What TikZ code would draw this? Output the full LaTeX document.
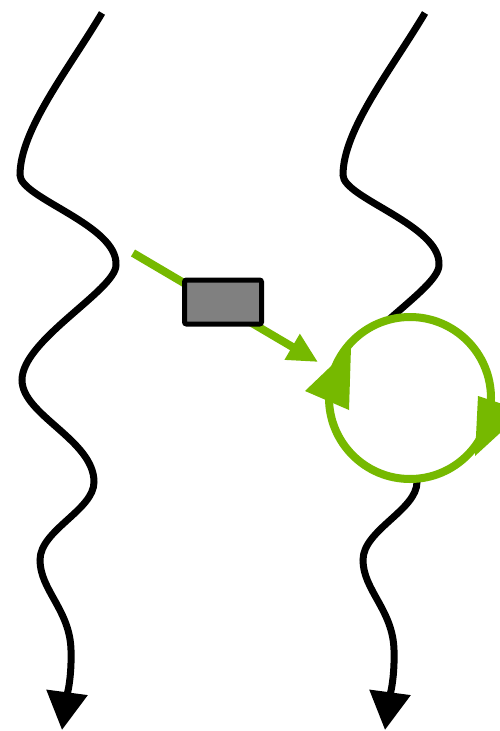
\documentclass[tikz,border=0pt]{standalone}
\usepackage{xcolor}
\usepackage{tikz}
\usetikzlibrary{arrows.meta}
\definecolor{sprout}{RGB}{118,185,0}
\colorlet{blockgray}{black!50}

\begin{document}
\begin{tikzpicture}[x=1pt,y=-1pt,
  wire/.style={line width=7pt,-{Triangle[length=38pt,width=40pt]}},
  feed/.style={sprout,line width=8pt,-{Triangle[length=30pt,width=28pt]}}]
\clip (0,0) rectangle (500,731);
% left wavy line
\draw[wire] (102,13) .. controls (68,70) and (20,130) .. (20,175)
  .. controls (20,198) and (118,225) .. (116,265)
  .. controls (116,290) and (22,340) .. (22,380)
  .. controls (22,415) and (94,440) .. (94,482)
  .. controls (94,510) and (40,530) .. (40,560)
  .. controls (40,590) and (70,610) .. (71,650)
  .. controls (72,680) and (66,700) .. (62,730);
% right wavy line, same shape
\begin{scope}[shift={(323,0)}]
\draw[wire] (102,13) .. controls (68,70) and (20,130) .. (20,175)
  .. controls (20,198) and (118,225) .. (116,265)
  .. controls (116,290) and (22,340) .. (22,380)
  .. controls (22,415) and (94,440) .. (94,482)
  .. controls (94,510) and (40,530) .. (40,560)
  .. controls (40,590) and (70,610) .. (71,650)
  .. controls (72,680) and (66,700) .. (62,730);
\end{scope}
% green feed with block
\coordinate (src) at (133,253);
\coordinate (dst) at (318,362);
\draw[feed] (src) -- (dst);
\node[draw,fill=blockgray,line width=5pt,rounded corners=2pt,inner sep=0pt,
  minimum width=77pt,minimum height=44pt] (block) at (223,302) {};
% loop
\node[draw=sprout,fill=white,circle,line width=8pt,inner sep=0pt,
  minimum size=162pt] (loop) at (410,398) {};
\fill[sprout] (305,391) -- (351,347) -- (349,410) -- cycle;
\fill[sprout] (478,396) -- (524,411) -- (475,456) -- cycle;
\end{tikzpicture}
\end{document}
